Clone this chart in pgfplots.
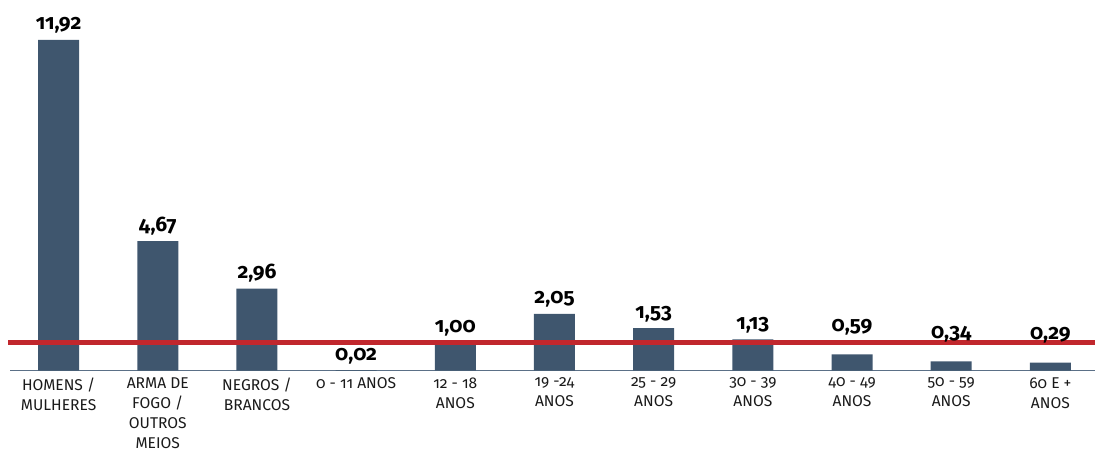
\documentclass[border=0pt]{standalone}
\usepackage{pgfplots}
\pgfplotsset{compat=1.18}
\usepackage{fontspec}
\setmainfont{Fira Sans}[Numbers=OldStyle]
\definecolor{barblue}{HTML}{3F566E}
\definecolor{linered}{HTML}{C1272D}
\definecolor{baseblue}{HTML}{5B7087}
\definecolor{txt}{HTML}{1A1A1A}
\tikzset{valstyle/.style={font=\fontsize{10.5}{12}\selectfont\bfseries,
    text=black, anchor=base}}

\begin{document}
\begin{tikzpicture}
\begin{axis}[
  scale only axis,
  width=542.5pt, height=185.35pt,
  xmin=-0.49, xmax=10.45,
  ymin=0, ymax=13.36,
  axis y line=none,
  axis x line*=bottom,
  x axis line style={baseblue, line width=0.8pt},
  xtick={0,...,10},
  major tick length=0pt,
  xticklabels={HOMENS /\\MULHERES, ARMA DE\\FOGO /\\OUTROS\\MEIOS, NEGROS /\\BRANCOS,
    0 - 11 ANOS, 12 - 18\\ANOS, 19 -24\\ANOS, 25 - 29\\ANOS, 30 - 39\\ANOS,
    40 - 49\\ANOS, 50 - 59\\ANOS, 60 E +\\ANOS},
  xticklabel style={align=center, font=\fontsize{7.8}{10}\selectfont, text=txt},
  ybar, bar width=20.5pt, bar shift=0pt,
  clip=false,
]
% bars whose labels sit just above the bar
\addplot[fill=barblue, draw=none,
  nodes near coords, point meta=explicit symbolic,
  every node near coord/.append style={valstyle, yshift=5pt}]
  coordinates {
    (0,11.92) [11,92]
    (1,4.67) [4,67]
    (2,2.96) [2,96]
    (3,0.02) [0,02]
    (4,1.00) [1,00]
    (5,2.05) [2,05]
    (6,1.53) [1,53]
    (7,1.13) [1,13]
  };
% small bars: labels lifted above the red line
\addplot[fill=barblue, draw=none,
  nodes near coords, point meta=explicit symbolic,
  every node near coord/.append style={valstyle, yshift=11.5pt}]
  coordinates {
    (8,0.59) [0,59]
    (9,0.34) [0,34]
    (10,0.29) [0,29]
  };
\addplot[sharp plot, linered, line width=2.5pt, no marks, forget plot]
  coordinates {(-0.51,1) (10.45,1)};
\end{axis}
\pgfresetboundingbox
\path ([xshift=-5pt,yshift=-46.65pt]current axis.south west) rectangle (current axis.north east);
\end{tikzpicture}
\end{document}
